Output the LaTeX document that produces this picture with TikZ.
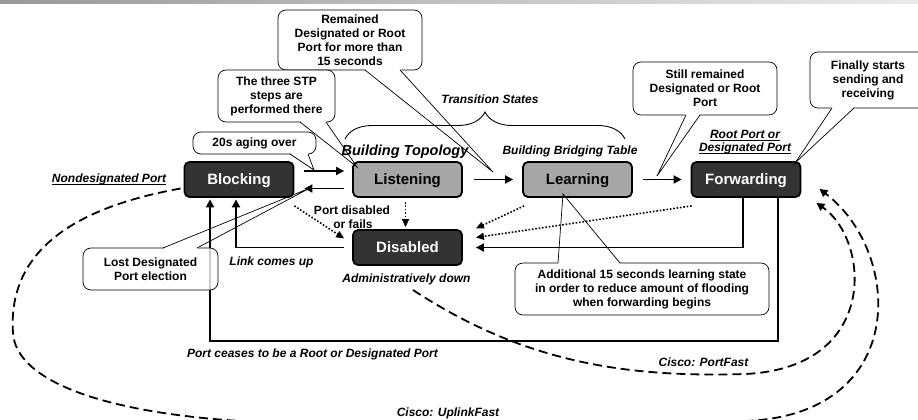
\documentclass[tikz,border=0pt]{standalone}
\usepackage{fontspec}
\setmainfont{Liberation Sans}
\usetikzlibrary{arrows.meta,calc,decorations.pathreplacing}
\definecolor{darkfill}{HTML}{333333}
\definecolor{lightfill}{HTML}{A6A6A6}
\newcommand\ulx[1]{\setbox0\hbox{#1}\rlap{\rule[-2.4pt]{\wd0}{0.8pt}}\box0}
\newcommand\callptr[4]{%
  \fill[white] ($#1+#4$) -- ($#1!3pt!#3$) -- ($#2!3pt!#3$) -- ($#2+#4$) -- cycle;
  \draw[ptr] #1 -- #3 -- #2;}
\begin{document}
\begin{tikzpicture}[x=1pt,y=-1pt,
  state/.style={draw=black, line width=1.8pt, rounded corners=5pt, minimum width=109pt,
    minimum height=35pt, inner sep=0pt, font=\fontsize{15}{18}\selectfont\bfseries,
    text height=10.7pt, text depth=0pt},
  darkst/.style={state, fill=darkfill, text=white},
  lightst/.style={state, fill=lightfill, text=black},
  arr/.style={line width=1.8pt, -{Triangle[length=8pt,width=8pt]}},
  dotarr/.style={line width=1.6pt, dash pattern=on 1.6pt off 1.8pt, -{Triangle[length=8pt,width=7pt]}},
  dasharr/.style={line width=1.8pt, dash pattern=on 9pt off 5pt, -{Triangle[length=8pt,width=8pt]}},
  lbl/.style={font=\fontsize{12}{14}\selectfont\bfseries\itshape, inner sep=0pt, anchor=base},
  lblr/.style={font=\fontsize{12}{14}\selectfont\bfseries, inner sep=0pt, anchor=base},
  bubble/.style={draw, line width=0.7pt, rounded corners=8pt, fill=white, fill opacity=0.8,
    text opacity=1, inner sep=0pt, align=center, font=\fontsize{12}{14}\selectfont\bfseries},
  ptr/.style={line width=0.7pt}
]
\useasboundingbox (0,0) rectangle (918,420);
\clip (0,0) rectangle (918,420);
\shade[left color=black!40, right color=black!8] (0,0) rectangle (918,3.5);

% states
\node[darkst] (B) at (239,179.5) {Blocking};
\node[lightst] (L) at (407.5,179.5) {Listening};
\node[lightst] (Le) at (577.5,179.5) {Learning};
\node[darkst] (F) at (746,179.5) {Forwarding};
\node[darkst] (D) at (407.5,247.5) {Disabled};

% solid transitions
\draw[arr] ($(B.east)+(10,-8.5)$) -- ($(L.west)+(-8,-8.5)$);
\draw[arr] ($(L.west)+(-8,9)$) -- ($(B.east)+(10,9)$);
\draw[arr] ($(L.east)+(11,0)$) -- ($(Le.west)+(-9,0)$);
\draw[arr] ($(Le.east)+(10,0)$) -- ($(F.west)+(-9,0)$);
\draw[arr] ($(F.south)+(-3,0)$) |- ($(D.east)+(13,0)$);
\draw[arr] ($(D.west)+(-8,0)$) -| ($(B.south)+(-3,1.5)$);
\draw[arr] ($(F.south)+(32,0)$) -- ++(0,143) -| ($(B.south)+(-29,1.5)$);

% dotted transitions
\draw[dotarr] ($(L.south)+(-2,4)$) -- ($(D.north)+(-2,-2)$);
\draw[dotarr] ($(B.south east)+(0,8)$) -- ($(D.west)+(-8,-9)$);
\draw[dotarr] ($(Le.south west)+(2,8)$) -- ($(D.east)+(13,-19)$);
\draw[dotarr] ($(F.south west)+(1,8)$) -- ($(D.east)+(13,-10)$);

% dashed Cisco shortcuts
\coordinate (pf0) at (413,290);
\coordinate (pf1) at ($(F.south east)+(15,5)$);
\draw[dasharr] (pf0) .. controls (520,360) and (620,378) .. (745,374)
  .. controls (880,368) and (870,240) .. (pf1);
\coordinate (uf0) at ($(B.west)+(-3,9)$);
\coordinate (uf1) at ($(F.south east)+(18,-9)$);
\draw[dasharr] (uf0) .. controls (60,210) and (8,260) .. (13,333)
  .. controls (16,380) and (100,412) .. (240,421)
  .. controls (420,432) and (640,430) .. (760,420)
  .. controls (910,405) and (900,250) .. (uf1);

% labels
\node[lbl] (nd) at (109,182) {\ulx{Nondesignated Port}};
\node[lbl, font=\fontsize{14.5}{17}\selectfont\bfseries\itshape] (bt) at (405,155) {Building Topology};
\node[lbl] (bbt) at (570,154) {Building Bridging Table};
\node[lbl] (ts) at (490,103) {Transition States};
\node[lbl] (rp1) at (745,138) {\ulx{Root Port or}};
\node[lbl] (rp2) at (745,151) {\ulx{Designated Port}};
\node[lblr] (pd1) at (352,214) {Port disabled};
\node[lblr] (pd2) at (353,228) {or fails};
\node[lbl] (lcu) at (271.5,265) {Link comes up};
\node[lbl] (adm) at (406.5,282) {Administratively down};
\node[lbl] (pc) at (312.5,357) {Port ceases to be a Root or Designated Port};
\node[lbl] (cpf) at (703.5,366) {Cisco: PortFast};
\node[lbl] (cuf) at (448,416) {Cisco: UplinkFast};

% brace
\draw[line width=0.9pt, decorate, decoration={brace, amplitude=27pt}] (345,139) -- (625,139);

% callouts
\node[bubble, minimum width=144pt, minimum height=60pt] (c1) at (350,40)
  {Remained\\Designated or Root\\Port for more than\\15 seconds};
\coordinate (t1) at (493,172);
\callptr{(365,70)}{(400,70)}{(t1)}{(0,-1.5)}

\node[bubble, minimum width=117pt, minimum height=52pt] (c2) at (276.5,96)
  {The three STP\\steps are\\performed there};
\coordinate (t2) at (357,167);
\callptr{(300,122)}{(326,122)}{(t2)}{(0,-1.5)}

\node[bubble, minimum width=123pt, minimum height=22pt] (c3) at (254.5,143) {20s aging over};
\coordinate (t3) at (314,170);
\callptr{(290,154)}{(308,154)}{(t3)}{(0,-1.5)}

\node[bubble, minimum width=144pt, minimum height=53pt] (c4) at (705,88.5)
  {Still remained\\Designated or Root\\Port};
\coordinate (t4) at (657,176);
\callptr{(686,115)}{(700,115)}{(t4)}{(0,-1.5)}

\node[bubble, minimum width=116pt, minimum height=56pt] (c5) at (868,80)
  {Finally starts\\sending and\\receiving};
\coordinate (t5) at (795,163);
\callptr{(832,108)}{(854,108)}{(t5)}{(0,-1.5)}

\node[bubble, minimum width=135pt, minimum height=42pt] (c6) at (150.5,269)
  {Lost Designated\\Port election};
\coordinate (t6) at (310,188);
\callptr{(163,248)}{(197,248)}{(t6)}{(0,1.5)}

\node[bubble, minimum width=254pt, minimum height=52pt] (c7) at (642,289)
  {Additional 15 seconds learning state\\in order to reduce amount of flooding\\when forwarding begins};
\coordinate (t7) at (563,194);
\callptr{(558,263)}{(620,263)}{(t7)}{(0,1.5)}
\end{tikzpicture}
\end{document}
